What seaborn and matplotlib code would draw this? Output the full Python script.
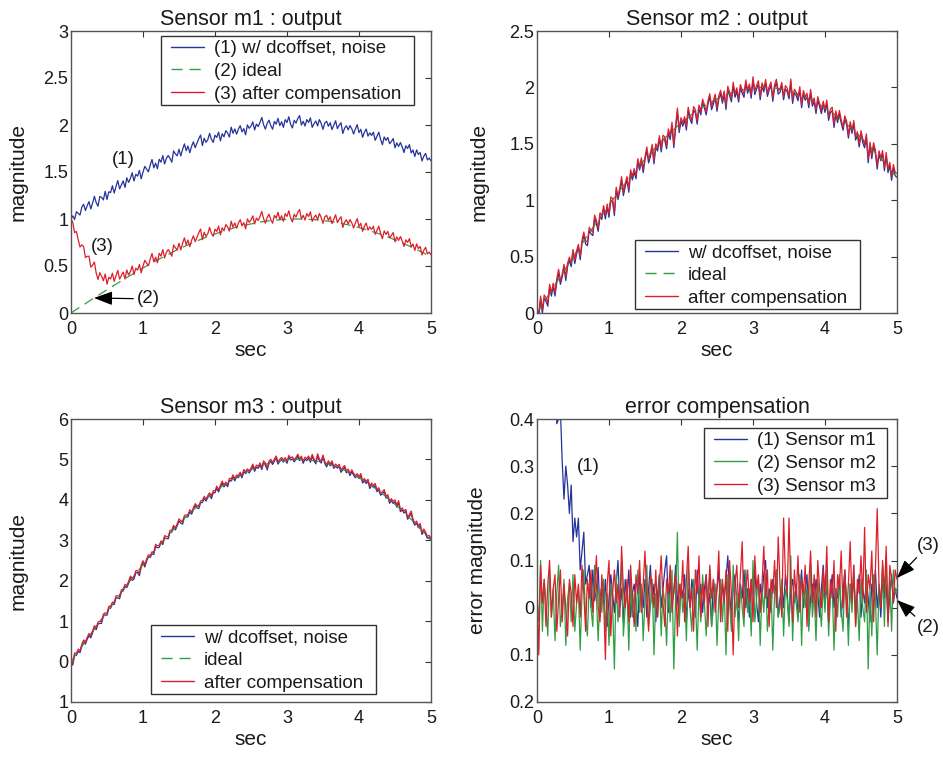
import numpy as np
import pandas as pd
import matplotlib
matplotlib.use("Agg")
import matplotlib.pyplot as plt
from matplotlib.patches import Rectangle
import seaborn as sns

# ---------------- data ----------------
t_start, t_end, n_samples = 0.0, 5.0, 201

# ideal sensor output shape (m1 ideal; peak 1 near t=3.1)
ideal_m1 = [
    0.000, 0.013, 0.025, 0.038, 0.050, 0.062, 0.075, 0.087, 0.100, 0.112,
    0.125, 0.137, 0.149, 0.162, 0.174, 0.186, 0.199, 0.211, 0.223, 0.235,
    0.247, 0.259, 0.272, 0.284, 0.296, 0.307, 0.319, 0.331, 0.343, 0.355,
    0.366, 0.378, 0.389, 0.401, 0.412, 0.424, 0.435, 0.446, 0.457, 0.468,
    0.479, 0.490, 0.501, 0.512, 0.523, 0.533, 0.544, 0.554, 0.565, 0.575,
    0.585, 0.595, 0.605, 0.615, 0.625, 0.635, 0.644, 0.654, 0.663, 0.672,
    0.682, 0.691, 0.700, 0.709, 0.717, 0.726, 0.735, 0.743, 0.751, 0.759,
    0.768, 0.775, 0.783, 0.791, 0.799, 0.806, 0.813, 0.821, 0.828, 0.835,
    0.841, 0.848, 0.855, 0.861, 0.867, 0.874, 0.880, 0.885, 0.891, 0.897,
    0.902, 0.908, 0.913, 0.918, 0.923, 0.927, 0.932, 0.936, 0.941, 0.945,
    0.949, 0.953, 0.957, 0.960, 0.964, 0.967, 0.970, 0.973, 0.976, 0.978,
    0.981, 0.983, 0.985, 0.988, 0.989, 0.991, 0.993, 0.994, 0.995, 0.997,
    0.997, 0.998, 0.999, 0.999, 1.000, 1.000, 1.000, 1.000, 1.000, 0.999,
    0.999, 0.998, 0.997, 0.996, 0.995, 0.993, 0.992, 0.990, 0.988, 0.986,
    0.984, 0.982, 0.979, 0.977, 0.974, 0.971, 0.968, 0.965, 0.961, 0.958,
    0.954, 0.950, 0.946, 0.942, 0.938, 0.934, 0.929, 0.924, 0.919, 0.914,
    0.909, 0.904, 0.899, 0.893, 0.887, 0.882, 0.876, 0.869, 0.863, 0.857,
    0.850, 0.844, 0.837, 0.830, 0.823, 0.816, 0.808, 0.801, 0.794, 0.786,
    0.778, 0.770, 0.762, 0.754, 0.746, 0.737, 0.729, 0.720, 0.711, 0.703,
    0.694, 0.685, 0.675, 0.666, 0.657, 0.647, 0.638, 0.628, 0.618, 0.608,
    0.598,
]
ideal_gain = [1.0, 2.0, 5.0]          # peaks of m1, m2, m3 ideal outputs
dc_offset = [1.0, -0.03, -0.05]       # raw minus compensated, per sensor

# start-up transient of the m1 compensated output (first 0.9 s)
transient_m1 = [
    1.00, 0.93, 0.86, 0.79, 0.72, 0.66, 0.60, 0.55, 0.50, 0.46,
    0.42, 0.38, 0.34, 0.30, 0.25, 0.22, 0.19, 0.16, 0.14, 0.12,
    0.10, 0.09, 0.08, 0.07, 0.06, 0.05, 0.045, 0.04, 0.035, 0.03,
    0.025, 0.02, 0.015, 0.01, 0.008, 0.005, 0.003,
]
# start-up transient seen in the m1 error curve (first 0.85 s)
transient_err_m1 = [
    1.00, 0.95, 0.90, 0.85, 0.80, 0.75, 0.70, 0.64, 0.58, 0.52,
    0.47, 0.42, 0.38, 0.34, 0.31, 0.28, 0.26, 0.24, 0.22, 0.20,
    0.18, 0.16, 0.14, 0.12, 0.10, 0.08, 0.07, 0.06, 0.05, 0.04,
    0.03, 0.02, 0.015, 0.01, 0.005,
]

# residual noise of each sensor after compensation
noise_m1 = [
    0.00, 0.02, -0.03, 0.04, 0.01, -0.02, 0.05, 0.07, -0.01, 0.03, 0.06, -0.03, 0.02, 0.08, 0.00, -0.05, 0.04, 0.02, -0.02, 0.06,
    -0.04, 0.03, 0.01, 0.07, -0.02, 0.04, 0.09, -0.01, 0.02, 0.05, -0.03, 0.06, 0.00, 0.03, 0.08, -0.02, 0.04, 0.01, 0.06, -0.04,
    0.02, 0.07, 0.03, -0.01, 0.05, 0.10, 0.00, 0.04, -0.03, 0.06, 0.02, 0.08, -0.02, 0.03, 0.05, 0.01, -0.04, 0.07, 0.03, 0.00,
    0.06, -0.02, 0.04, 0.09, 0.01, 0.05, -0.03, 0.03, 0.07, 0.00, 0.04, 0.08, 0.11, -0.01, 0.06, 0.01, 0.03, 0.09, 0.02, -0.02,
    0.05, 0.02, 0.07, -0.03, 0.04, 0.00, 0.06, 0.03, -0.02, 0.08, 0.01, 0.05, -0.01, 0.04, 0.07, 0.00, 0.03, -0.04, 0.06, 0.02,
    0.04, 0.08, -0.01, 0.05, 0.02, 0.06, 0.11, 0.03, -0.02, 0.04, 0.07, 0.01, -0.03, 0.05, 0.02, 0.08, 0.00, 0.04, -0.02, 0.06,
    0.03, 0.09, 0.01, -0.03, 0.05, 0.02, 0.07, 0.10, 0.00, 0.04, -0.01, 0.06, 0.03, 0.08, -0.02, 0.02, 0.05, 0.00, 0.07, 0.03,
    -0.03, 0.04, 0.06, 0.01, 0.05, -0.02, 0.03, 0.08, 0.00, 0.04, 0.07, -0.04, 0.02, 0.05, 0.01, 0.06, 0.03, -0.02, 0.04, 0.09,
    0.01, 0.05, -0.03, 0.03, 0.07, 0.00, 0.04, 0.02, 0.06, -0.02, 0.03, 0.08, 0.01, -0.04, 0.05, 0.02, 0.06, 0.00, 0.03, 0.07,
    -0.02, 0.04, 0.01, 0.06, 0.02, -0.03, 0.05, 0.03, 0.08, 0.00, 0.04, -0.02, 0.06, 0.02, 0.05, -0.03, 0.03, 0.07, 0.01, 0.04,
    0.02,
]
error_m2 = [
    0.02, -0.03, 0.10, -0.05, 0.06, 0.01, -0.06, 0.08, -0.02, 0.04, -0.07, 0.03, 0.09, -0.04, 0.00, 0.06, -0.08, 0.02, 0.05, -0.03,
    0.07, -0.05, 0.01, 0.04, -0.09, 0.03, 0.08, -0.02, -0.06, 0.05, 0.00, -0.04, 0.09, 0.02, -0.07, 0.04, -0.01, 0.06, -0.05, 0.03,
    -0.08, 0.05, 0.01, -0.13, 0.07, -0.03, 0.02, 0.10, -0.06, 0.00, 0.04, -0.09, 0.06, -0.02, 0.03, -0.05, 0.08, -0.01, 0.05, -0.07,
    0.02, 0.09, -0.04, 0.00, 0.06, -0.10, 0.03, -0.02, 0.07, -0.06, 0.04, 0.01, -0.08, 0.05, -0.03, 0.08, -0.13, 0.02, 0.16, -0.04,
    0.05, -0.01, 0.03, -0.07, 0.09, 0.00, -0.05, 0.06, 0.02, -0.09, 0.04, -0.03, 0.07, 0.01, -0.06, 0.03, 0.08, -0.04, 0.00, 0.05,
    -0.08, 0.02, 0.06, -0.03, 0.04, -0.10, 0.07, 0.01, -0.05, 0.09, -0.02, 0.03, -0.07, 0.05, 0.00, -0.04, 0.08, -0.01, 0.04, -0.06,
    0.10, -0.03, 0.02, 0.06, -0.08, 0.04, -0.01, 0.07, -0.05, 0.01, 0.05, -0.09, 0.03, 0.08, -0.02, 0.00, 0.06, -0.06, 0.04, 0.02,
    -0.04, 0.11, -0.07, 0.03, 0.01, -0.03, 0.07, -0.08, 0.05, 0.00, 0.04, -0.05, 0.09, -0.02, 0.03, -0.07, 0.06, 0.01, -0.04, 0.05,
    -0.01, 0.08, -0.06, 0.02, 0.05, -0.09, 0.04, -0.02, 0.07, 0.00, -0.05, 0.06, 0.03, -0.08, 0.05, -0.01, 0.09, -0.04, 0.02, -0.07,
    0.06, 0.00, -0.03, 0.08, -0.13, 0.04, -0.06, 0.07, 0.02, -0.10, 0.05, 0.01, 0.09, -0.04, 0.11, -0.02, 0.06, -0.05, 0.08, 0.03,
    0.04,
]
error_m3 = [
    0.03, -0.10, 0.09, 0.01, 0.06, -0.04, 0.05, 0.10, -0.02, 0.04, 0.07, -0.05, 0.02, 0.08, -0.03, 0.05, 0.00, -0.06, 0.06, 0.03,
    -0.04, 0.07, 0.01, 0.05, -0.02, 0.09, 0.03, -0.05, 0.06, 0.02, 0.08, -0.01, 0.04, 0.11, 0.00, -0.03, 0.07, 0.02, -0.11, 0.05,
    0.10, -0.06, 0.03, 0.08, 0.01, 0.05, -0.02, 0.13, 0.04, 0.00, 0.06, -0.03, 0.09, 0.02, -0.04, 0.07, 0.03, 0.10, -0.01, 0.05,
    0.12, 0.02, -0.05, 0.07, 0.04, 0.00, 0.08, -0.02, 0.05, 0.11, 0.01, -0.04, 0.06, 0.03, 0.09, -0.01, 0.04, 0.07, -0.06, 0.05,
    0.02, 0.10, -0.03, 0.06, 0.13, 0.00, 0.04, -0.05, 0.08, 0.03, 0.11, -0.02, 0.05, 0.01, 0.07, -0.04, 0.09, 0.02, 0.06, -0.01,
    0.04, 0.12, -0.03, 0.06, 0.01, 0.08, -0.05, 0.10, 0.03, -0.10, 0.05, 0.09, 0.00, 0.07, 0.14, -0.02, 0.04, 0.08, 0.01, 0.06,
    -0.03, 0.11, 0.04, 0.07, -0.01, 0.05, 0.13, 0.02, 0.08, -0.04, 0.06, 0.03, 0.10, 0.00, 0.15, 0.05, -0.02, 0.19, 0.07, 0.03,
    0.19, 0.04, -0.03, 0.08, 0.02, 0.11, -0.01, 0.06, 0.03, 0.09, -0.04, 0.05, 0.12, 0.01, 0.07, -0.02, 0.10, 0.04, 0.00, 0.08,
    0.03, 0.13, -0.03, 0.06, 0.02, 0.10, -0.05, 0.07, 0.04, 0.12, 0.00, 0.08, -0.02, 0.05, 0.14, 0.01, 0.09, -0.04, 0.06, 0.03,
    0.11, 0.02, 0.17, -0.01, 0.07, 0.04, 0.12, -0.03, 0.08, 0.21, 0.05, 0.00, 0.10, 0.03, 0.13, -0.04, 0.09, 0.06, 0.01, 0.08,
    0.06,
]

titles = ["Sensor m1 : output", "Sensor m2 : output", "Sensor m3 : output", "error compensation"]
legend_out_m1 = ["(1) w/ dcoffset, noise", "(2) ideal", "(3) after compensation"]
legend_out = ["w/ dcoffset, noise", "ideal", "after compensation"]
legend_err = ["(1) Sensor m1", "(2) Sensor m2", "(3) Sensor m3"]

x_ticks = [0, 1, 2, 3, 4, 5]
y_ticks_m1 = [0, 0.5, 1, 1.5, 2, 2.5, 3]
y_labels_m1 = ["0", "0.5", "1", "1.5", "2", "2.5", "3"]
y_ticks_m2 = [0, 0.5, 1, 1.5, 2, 2.5]
y_labels_m2 = ["0", "0.5", "1", "1.5", "2", "2.5"]
y_ticks_m3 = [-1, 0, 1, 2, 3, 4, 5, 6]
y_labels_m3 = ["1", "0", "1", "2", "3", "4", "5", "6"]
y_ticks_err = [-0.2, -0.1, 0, 0.1, 0.2, 0.3, 0.4]
y_labels_err = ["0.2", "0.1", "0", "0.1", "0.2", "0.3", "0.4"]

# ---------------- derived series ----------------
t = np.linspace(t_start, t_end, n_samples)
shape = np.array(ideal_m1)
trans = np.zeros(n_samples)
trans[:len(transient_m1)] = transient_m1
trans_e = np.zeros(n_samples)
trans_e[:len(transient_err_m1)] = transient_err_m1
n1 = np.array(noise_m1)
e2 = np.array(error_m2)
e3 = np.array(error_m3)

ideal = [g * shape for g in ideal_gain]
comp = [ideal[0] + n1 + trans, ideal[1] + e2, ideal[2] + e3]
raw = [ideal[0] + dc_offset[0] + n1,
       comp[1] + dc_offset[1],
       comp[2] + dc_offset[2]]
err = [n1 + trans_e, e2, e3]

# ---------------- style ----------------
sns.set_style("white")
plt.rcParams["font.family"] = ["Liberation Sans", "DejaVu Sans"]
C_BLUE, C_GREEN, C_RED = "#25339a", "#2f9e44", "#dd1f2b"
LW = 0.9
SPINE = "#555555"
TXT = "#1a1a1a"
DASH = (0, (8, 5))

fig = plt.figure(figsize=(9.43, 7.57), dpi=100)
W, H = 943.0, 757.0
boxes = [(71, 31, 431, 313), (537, 31, 897, 313), (71, 419, 431, 702), (537, 419, 897, 702)]
axes = [fig.add_axes([l / W, 1 - b / H, (r - l) / W, (b - tp) / H]) for (l, tp, r, b) in boxes]

def px_to_ax(k, px, py):
    l, tp, r, b = boxes[k]
    return (px - l) / (r - l), 1 - (py - tp) / (b - tp)

def style(ax, title, yticks, ylabels, ylim, ylabel, ylab_x):
    ax.set_xlim(0, 5)
    ax.set_ylim(*ylim)
    ax.set_xticks(x_ticks)
    ax.set_xticklabels([str(v) for v in x_ticks])
    ax.set_yticks(yticks)
    ax.set_yticklabels(ylabels)
    ax.tick_params(axis="both", direction="in", length=4, width=0.8, color="#333333",
                   labelsize=13, labelcolor=TXT, top=True, right=True)
    ax.tick_params(axis="x", pad=6)
    ax.tick_params(axis="y", pad=2)
    for s in ax.spines.values():
        s.set_visible(True)
        s.set_color(SPINE)
        s.set_linewidth(1.0)
    ax.set_title(title, fontsize=15.5, color=TXT, pad=4)
    ax.set_xlabel("sec", fontsize=15, color=TXT)
    ax.set_ylabel(ylabel, fontsize=15, color=TXT)
    ax.xaxis.set_label_coords(0.5, -0.10)
    ax.yaxis.set_label_coords(ylab_x, 0.5)

def legend(k, labels, frame_px):
    ax = axes[k]
    x0p, y0p, x1p, y1p = frame_px
    fx0, fy1 = px_to_ax(k, x0p, y0p)
    fx1, fy0 = px_to_ax(k, x1p, y1p)
    ax.add_patch(Rectangle((fx0, fy0), fx1 - fx0, fy1 - fy0, transform=ax.transAxes,
                           facecolor="white", edgecolor="#333333", lw=1.0, zorder=4.9))
    ax_x, ax_y = px_to_ax(k, x0p + 10, y0p + 4)
    handles = ax.get_lines()[:3]
    leg = ax.legend(handles, labels, loc="upper left", bbox_to_anchor=(ax_x, ax_y),
                    borderaxespad=0, borderpad=0, fontsize=13.5, frameon=False,
                    handlelength=1.75, handletextpad=0.55, labelspacing=0.3)
    leg.set_zorder(5)
    for txt in leg.get_texts():
        txt.set_color(TXT)
    for ln in leg.get_lines():
        ln.set_linewidth(1.0)

ylims = [(0, 3), (0, 2.5), (-1, 6)]
yt = [(y_ticks_m1, y_labels_m1), (y_ticks_m2, y_labels_m2), (y_ticks_m3, y_labels_m3)]
ylab_x = [-0.122, -0.134, -0.122]
for i in range(3):
    ax = axes[i]
    sns.lineplot(x=t, y=raw[i], ax=ax, color=C_BLUE, lw=LW, legend=False)
    sns.lineplot(x=t, y=ideal[i], ax=ax, color=C_GREEN, lw=LW, legend=False,
                 linestyle=DASH)
    sns.lineplot(x=t, y=comp[i], ax=ax, color=C_RED, lw=LW, legend=False)
    style(ax, titles[i], yt[i][0], yt[i][1], ylims[i], "magnitude", ylab_x[i])

legend(0, legend_out_m1, (161, 36, 414, 105))
legend(1, legend_out, (635, 240, 860, 309))
legend(2, legend_out, (151, 625, 376, 694))

ax = axes[3]
for i, c in enumerate([C_BLUE, C_GREEN, C_RED]):
    sns.lineplot(x=t, y=err[i], ax=ax, color=c, lw=LW, legend=False)
style(ax, titles[3], y_ticks_err, y_labels_err, (-0.2, 0.4), "error magnitude", -0.139)
legend(3, legend_err, (704, 428, 887, 498))

# ---------------- annotations ----------------
arrow = dict(arrowstyle="-|>,head_length=0.8,head_width=0.3", color="black", lw=0.9,
             mutation_scale=14, shrinkA=0, shrinkB=0)
a0 = axes[0]
a0.text(0.72, 1.63, "(1)", fontsize=13.5, ha="center", va="center", color=TXT)
a0.text(0.43, 0.71, "(3)", fontsize=13.5, ha="center", va="center", color=TXT)
a0.annotate("(2)", xy=(0.32, 0.16), xytext=(1.07, 0.15), fontsize=13.5,
            ha="center", va="center", color=TXT, arrowprops=arrow)
a3 = axes[3]
a3.text(0.71, 0.30, "(1)", fontsize=13.5, ha="center", va="center", color=TXT)
a3.annotate("(3)", xy=(5.0, 0.063), xytext=(5.43, 0.131), fontsize=13.5,
            ha="center", va="center", color=TXT, arrowprops=arrow,
            annotation_clip=False)
a3.annotate("(2)", xy=(5.0, 0.016), xytext=(5.43, -0.043), fontsize=13.5,
            ha="center", va="center", color=TXT, arrowprops=arrow,
            annotation_clip=False)

fig.savefig("out.png", dpi=100)
